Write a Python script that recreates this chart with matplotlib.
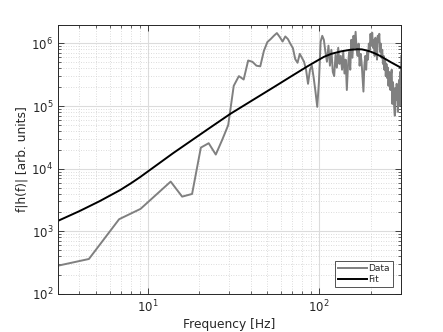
import numpy as np
import matplotlib
matplotlib.use('Agg')
import matplotlib.pyplot as plt
from matplotlib.ticker import LogLocator, NullFormatter

# Data: spectrum sampled on a uniform frequency grid (bin spacing in Hz)
bin_step = 2.273
data_values = [
    240, 362, 1560, 2280, 3960, 6220, 3580, 3950, 21700, 25500,
    16800, 29000, 49600, 210000, 300000, 265000, 533000, 508000, 440000, 430000,
    760000, 1.05e6, 1.17e6, 1.32e6, 1.46e6, 1.26e6, 1.07e6, 1.29e6, 1.17e6, 9.8e5,
    8.4e5, 5.6e5, 4.9e5, 6.8e5, 5.9e5, 5.1e5, 3.8e5, 2.26e5, 3.8e5, 4.4e5,
    2.82e5, 1.69e5, 9.7e4, 2.44e5, 1.06e6, 1.32e6, 1.14e6, 7.3e5, 5.1e5, 9.2e5,
    4.4e5, 7.9e5, 3.5e5, 3.0e5, 6.6e5, 4.1e5, 8.5e5, 4.7e5, 6.3e5, 3.8e5,
    7.3e5, 3.3e5, 5.5e5, 1.8e5, 4.4e5, 7.3e5, 3.8e5, 1.14e6, 5.9e5, 1.32e6,
    8.5e5, 1.53e6, 7.9e5, 6.3e5, 9.9e5, 4.4e5, 6.8e5, 5.1e5, 3.0e5, 1.7e5,
    4.4e5, 6.3e5, 3.8e5, 7.3e5, 5.5e5, 9.9e5, 7.9e5, 1.42e6, 9.2e5, 1.48e6,
    8.5e5, 1.14e6, 6.3e5, 1.23e6, 9.9e5, 5.5e5, 1.32e6, 1.06e6, 1.42e6, 7.3e5,
    9.9e5, 5.9e5, 7.9e5, 4.7e5, 6.3e5, 3.8e5, 5.5e5, 3.0e5, 4.7e5, 2.8e5,
    4.1e5, 2.1e5, 3.5e5, 2.6e5, 1.8e5, 3.3e5, 3.8e5, 1.08e5, 2.4e5, 1.46e5,
    9.4e4, 7.0e4, 1.95e5, 1.26e5, 2.26e5, 1.7e5, 8.1e4, 1.46e5, 2.6e5, 1.0e5,
    3.5e5, 2.26e5, 6.3e5,
]
data_freq = bin_step * np.arange(1, len(data_values) + 1)

# Fit curve
fit_freq = [3.0, 4.0, 5.25, 6.9, 8.0, 9.02, 14.1, 22.2, 30.4, 40,
            54.5, 70, 85.5, 96, 107, 118, 134, 143, 153, 168,
            178, 190, 201, 215, 230, 263, 304]
fit_values = [1470, 2100, 3030, 4540, 5850, 7300, 17700, 41700, 75000, 119000,
              200000, 306000, 428000, 515000, 610000, 680000, 743000, 767000, 791000, 806000,
              802000, 770000, 735000, 680000, 620000, 500000, 403000]

text_col = '#262626'

fig = plt.figure(figsize=(4.43, 3.32), dpi=100)
ax = fig.add_axes([0.1309, 0.1145, 0.7736, 0.8117])

ax.plot(data_freq, data_values, color='#808080', lw=1.4, label='Data')
ax.plot(fit_freq, fit_values, color='black', lw=1.4, label='Fit')

ax.set_xscale('log')
ax.set_yscale('log')
ax.set_xlim(3, 300)
ax.set_ylim(1e2, 2e6)

ax.xaxis.set_major_locator(LogLocator(base=10))
ax.yaxis.set_major_locator(LogLocator(base=10))
ax.xaxis.set_minor_locator(LogLocator(base=10, subs=np.arange(2, 10)))
ax.yaxis.set_minor_locator(LogLocator(base=10, subs=np.arange(2, 10)))
ax.xaxis.set_minor_formatter(NullFormatter())
ax.yaxis.set_minor_formatter(NullFormatter())

ax.grid(True, which='major', color='#dcdcdc', lw=0.8, ls='-')
ax.grid(True, which='minor', color='#d0d0d0', lw=0.6, ls=(0, (1, 2)))
ax.set_axisbelow(True)

ax.tick_params(which='both', direction='in', top=True, right=True,
               colors=text_col, labelsize=8.5)
ax.tick_params(which='major', length=4, width=0.6)
ax.tick_params(which='minor', length=2, width=0.5)
for s in ax.spines.values():
    s.set_color(text_col)
    s.set_linewidth(0.7)

ax.set_xlabel('Frequency [Hz]', fontsize=8.8, color=text_col, labelpad=2)
ax.set_ylabel('f|h(f)| [arb. units]', fontsize=8.8, color=text_col, labelpad=2)

leg = ax.legend(loc='lower right', bbox_to_anchor=(0.9767, 0.027), borderaxespad=0,
                fontsize=6.5, frameon=True, fancybox=False, handlelength=3.2,
                handletextpad=0.2, borderpad=0.3, labelspacing=0.25)
leg.get_frame().set_edgecolor(text_col)
leg.get_frame().set_linewidth(0.7)
for t in leg.get_texts():
    t.set_color(text_col)

fig.savefig('out.png', dpi=100)
